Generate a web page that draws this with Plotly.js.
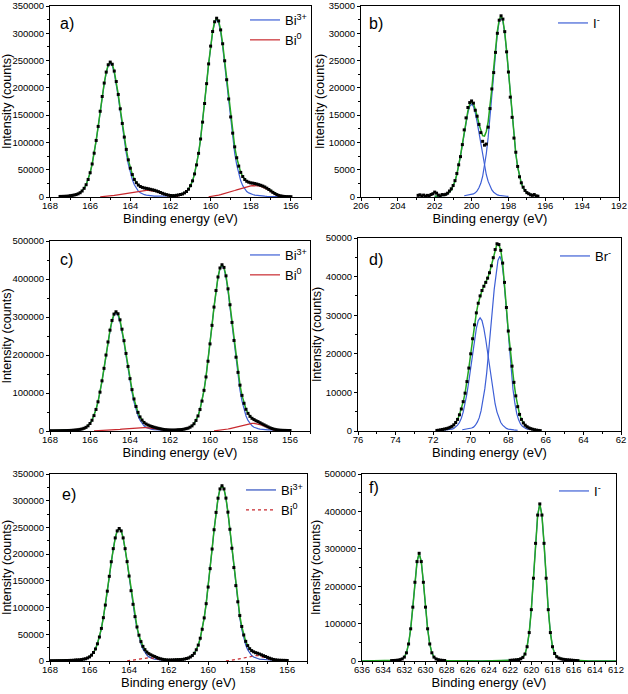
<!DOCTYPE html>
<html><head><meta charset="utf-8">
<script src="https://cdn.plot.ly/plotly-3.0.1.min.js"></script>
<style>html,body{margin:0;padding:0;background:#fff}#chart{width:628px;height:694px}</style>
</head><body><div id="chart"></div>
<script>
// ---------- Data, step 0.1 eV unless noted ----------
// Panel a) Bi 4f
const aStart = 167.5;
const aFit = [1000,1100,1200,1400,1600,2400,2900,3600,4400,5800,
 7800,11000,15900,22500,32100,44500,60500,80300,103600,129300,
 157100,184200,208800,228900,242300,247200,243300,230800,211600,187900,
 161600,134800,109800,87200,68100,52800,41100,32200,26200,21900,
 19200,17600,16500,15800,15000,14100,13200,12300,11100,9800,
 8300,6800,5400,4300,3400,2800,2500,2500,3100,3700,
 4600,5500,7500,10100,14300,20800,29600,42300,58800,80000,
 106300,137200,171300,207700,243900,276500,303300,321100,327600,322600,
 306200,280800,249600,214900,179600,146700,117000,91900,71900,56600,
 45100,37500,32000,28800,27100,25800,25400,24600,23700,22600,
 21400,20000,18300,16100,13700,11100,8500,6200,4300,2900,
 1950,1300,950,700,600,550];
const aBi3 = [800,900,1000,1200,1400,2200,2700,3400,4200,5600,
 7600,10800,15700,22300,31900,44300,60300,80100,103400,129100,
 156600,183500,207800,227600,240600,245000,240600,227600,207800,183500,
 156600,129100,103400,80100,60300,44300,31900,22300,15700,10800,
 7600,5600,4200,3400,2700,2200,1900,1700,1500,1400,
 1300,1300,1300,1400,1500,1600,1800,2100,2900,3600,
 4600,5500,7500,10100,14300,20800,29600,42300,58800,80000,
 106300,137200,171300,207700,243400,275600,301900,319200,325000,319200,
 301900,275600,243400,207700,171300,137200,106300,80000,58800,42300,
 29600,20800,14300,10100,7500,5500,4600,3600,2900,2400,
 2000,1700,1500,1300,1200,1100,1000,900,850,800,
 750,700,650,600,600,550];
const aBi0Start = 165.5;
const aBi0 = [300,500,800,1100,1500,2000,2500,3000,3600,4200,
 4800,5500,6200,6900,7600,8300,9000,9700,10300,10900,
 11400,11800,12100,12200,12100,11700,11300,10600,9600,8400,
 7000,5500,4100,2900,1900,1200,700,400,200,100,
 null,null,null,null,null,null,null,null,null,null,null,null,null,null,
 500,900,1400,1900,2600,3400,4300,5200,6200,7200,
 8300,9500,10700,11900,13100,14300,15500,16700,17700,18700,
 19600,20300,20800,21000,20800,20200,19400,18300,16800,14800,
 12500,10000,7500,5300,3500,2100,1200,600,300,100];

// Panel b) I-
const bDataStart = 202.9;
const bData = [300,400,200,350,150,300,250,450,600,900,
 700,350,200,450,400,500,700,1100,1500,2100,
 3000,4300,5900,7400,9600,12300,14500,16400,17300,17600,
 17200,15900,14800,13300,11800,10200,9500,9700,12800,16200,
 19800,22800,26500,30000,32400,33200,32600,30300,26600,22900,
 18300,14600,10800,8200,5600,3700,2600,1800,1200,800,
 600,400,300,450,200,150];
const bFitStart = 202.0;
const bFit = [150,170,190,220,250,320,420,610,900,1320,
 1990,2890,4130,5710,7600,9710,11940,14040,15760,16970,
 17430,17160,16210,14890,13390,12060,11240,11170,12000,13780,
 16460,19840,23610,27310,30390,32500,33220,32400,30160,26870,
 22860,18550,14520,10920,7920,5540,3760,2510,1680,1120,
 760,560,430,370,310,270,230];
const bComp1Start = 202.0;
const bComp1 = [120,140,160,190,220,290,390,580,870,1290,
 1940,2860,4080,5630,7480,9550,11710,13770,15450,16600,
 17000,16600,15450,13770,11710,9550,7480,5630,4080,2860,
 1940,1290,870,580,390,290,220,190,160,140,120];
const bComp2Start = 200.4;
const bComp2 = [230,270,310,370,430,560,760,1120,1680,2510,
 3760,5540,7920,10920,14520,18550,22740,26730,30000,32210,
 33000,32210,30000,26730,22740,18550,14520,10920,7920,5540,
 3760,2510,1680,1120,760,560,430,370,310,270,230];

// Panel c) Bi 4f
const cFitStart = 168.0;
const cFit = [500,550,600,650,700,
 800,900,1000,1100,1300,1500,1800,2200,2800,3400,
 4300,5300,7100,9600,13600,19800,28200,40500,56500,76900,
 102300,132000,164900,199900,234300,265400,290900,307700,313700,308500,
 292500,267900,237700,204100,169900,137800,108900,84300,64500,49000,
 37100,28800,22600,18500,15700,13400,11700,10000,8500,7200,
 6000,4900,4000,3400,2900,2600,2500,2500,2700,3300,
 3500,3900,4800,6100,7400,10000,13500,19100,27800,39600,
 56600,78700,107000,142200,183600,229200,278000,326100,369600,405300,
 429000,437500,430500,408300,374100,332200,285700,238300,194200,154300,
 120600,93700,72900,57100,46400,38500,33400,30000,27000,24700,
 21800,18900,16200,13500,10800,8400,6400,4800,3600,2700,
 2100,1800,1600,1500,1400,1300];
const cBi3Start = 167.5;
const cBi3 = [800,900,1000,1100,1300,1500,1800,2200,2800,3400,
 4300,5300,7100,9600,13600,19800,28200,40300,56100,76300,
 101400,130800,163400,198100,232200,262900,288000,304400,310000,304400,
 288000,262900,232200,198100,163400,130800,101400,76300,56100,40300,
 28200,19800,13600,9600,7100,5300,4300,3400,2800,2500,
 2300,2100,2000,2000,2000,2100,2200,2400,2700,3300,
 3500,3900,4800,6100,7400,10000,13500,19100,27800,39600,
 56600,78700,107000,142200,183600,229200,278000,325800,368900,404100,
 427200,435000,427200,404100,368900,325800,278000,229200,183600,142200,
 107000,78700,56600,39600,27800,19100,13500,10000,7400,6100,
 4800,3900,3500,3300,3000,2800,2600,2400,2200,2000,
 1800,1700,1600,1500,1400,1300];
const cBi0Start = 165.8;
const cBi0 = [200,400,600,900,1200,1500,1800,2100,2500,2900,
 3300,3700,4100,4500,5000,5500,6000,6500,7000,7500,
 8000,8400,8700,8900,9000,9000,8900,8600,8100,7400,
 6600,5700,4700,3700,2800,2000,1400,900,500,300,100,
 null,null,null,null,null,null,null,null,null,null,null,null,null,null,null,null,null,null,null,
 300,700,1200,1800,2500,3300,4200,5200,6400,7700,
 9100,10600,12100,13600,15000,16300,17500,18600,19400,19900,
 20000,19600,18600,17000,15000,12700,10200,7800,5600,3800,
 2400,1400,700,300,100];

// Panel d) Br-
const dFitStart = 71.8;
const dFit = [150,200,300,400,500,600,750,950,1200,1600,
 2200,3000,4200,5700,7600,9800,12800,16300,20000,23900,
 27500,30600,33100,35000,36400,37500,38500,39600,41000,42800,
 44900,47000,48500,48300,46800,43500,38500,32000,25900,21200,
 16800,12600,9100,6300,4300,3000,2100,1500,1100,800,
 600,450,320,220,150,100];
const dComp1Start = 71.5;
const dComp1 = [200,240,280,320,380,500,670,1000,1500,2200,
 3300,4900,7000,9700,12900,16500,20200,23700,26600,28600,
 29300,28600,26600,23700,20200,16500,12900,9700,7000,4900,
 3300,2200,1500,1000,670,500,380,320,280,240,200];
const dComp2Start = 70.45;
const dComp2 = [320,380,430,480,590,770,1000,1500,2300,3400,
 5200,7600,10900,15000,19900,25500,31200,36700,41200,44200,
 45300,43900,40000,34400,27900,21400,15600,10800,7200,4500,
 2900,1800,1200,800,600,450,380,330,280,250,220];

// Panel e) Bi 4f
const eFitStart = 168.0;
const eFit = [500,520,550,600,650,
 700,750,800,900,1000,1100,1200,1400,1900,2000,
 2200,2700,3500,4200,5700,7700,10900,15900,22600,32200,
 44900,61000,81100,104700,130700,158500,185800,210300,230400,243500,
 248000,243500,230400,210300,186000,159000,131600,106100,83100,63700,
 48300,36300,27400,21300,16700,13700,11600,9700,8300,6600,
 5100,4000,3100,2400,2000,1800,1900,2000,2200,2400,
 2500,2600,3000,3600,4600,5600,7500,10200,14400,21000,
 29800,42600,59400,80700,107300,138400,172900,209600,245700,278100,
 304700,322100,328000,322100,304900,278600,246600,211000,174900,141100,
 110800,85000,64600,48700,36800,28800,23000,19400,17200,15600,
 14500,13000,11500,9900,8400,6800,5300,4000,2900,2200,
 1700,1400,1300,1200,1100,1000];
const eBi3Start = 167.5;
const eBi3 = [700,750,800,900,1000,1100,1200,1400,1900,2000,
 2200,2700,3500,4200,5700,7700,10900,15900,22600,32200,
 44900,61000,81100,104700,130700,158500,185800,210300,230400,243500,
 248000,243500,230400,210300,185800,158500,130700,104700,81100,61000,
 44900,32200,22600,15900,10900,7700,5700,4200,3500,2700,
 2200,2000,1900,1800,1800,1800,1900,2000,2200,2400,
 2500,2600,3000,3600,4600,5600,7500,10200,14400,21000,
 29800,42600,59400,80700,107300,138400,172900,209600,245700,278100,
 304700,322100,328000,322100,304700,278100,245700,209600,172900,138400,
 107300,80700,59400,42600,29800,21000,14400,10200,7500,5600,
 4600,3600,3000,2600,2500,2300,2100,1900,1700,1600,
 1500,1400,1300,1200,1100,1000];
const eBi0Start = 164.1;
const eBi0 = [200,500,900,1400,2000,2700,3400,4100,4800,5400,
 5800,6000,5900,5500,4800,3900,2900,2000,1200,600,200,
 null,null,null,null,null,null,null,null,null,null,null,null,null,null,null,
 null,null,null,null,null,null,null,null,null,null,null,null,null,null,
 200,500,900,1400,2000,2700,3500,4300,5200,6100,
 7000,7800,8600,9200,9700,10000,9900,9400,8500,7300,
 5900,4500,3200,2100,1200,600,200];

// Panel f) I-, step 0.2 eV
const fFitStart = 636.0;
const fFit = [0,0,0,0,0,0,0,0,0,0,0,
 500,700,900,1100,1400,1700,2300,3500,5500,10400,
 21900,45500,86100,144000,210500,265800,288000,265800,210500,144000,
 86100,45500,21900,10400,5500,3500,2300,1700,1400,1100,
 900,700,500,300,200,
 0,0,0,0,0,0,0,0,0,0,0,0,0,0,0,0,0,0,0,
 150,300,500,800,1200,1700,
 2200,2700,3100,3800,5900,9700,18500,38200,76000,137300,
 221300,314600,390200,420000,390200,314600,221300,137300,76000,38200,
 20000,11500,7800,5800,4600,3800,3200,2700,2200,1700,
 1300,900,600,400,200,100,
 0,0,0,0,0,0,0,0,0,0,0,0,0,0];
const fData1Start = 633.2;
const fData1 = [1100,1400,1700,2300,3500,5500,10400,21900,45500,86100,
 144000,210500,265800,288000,265800,210500,144000,86100,45500,21900,
 10400,5500,3500,2300,1700,1400];
const fData2Start = 622.0;
const fData2 = [1700,2200,2700,3100,3800,5900,9700,18500,38200,76000,
 137300,221300,314600,390200,420000,390200,314600,221300,137300,76000,
 38200,20000,11500,7800,5800,4600,3800,3200,2700,2200,
 1700,1300,900];

// ---------- Styling / layout ----------
const W = 628, H = 694;
const FONT = 'Liberation Sans, Arial, Helvetica, sans-serif';
const GREEN = '#22a622', BLUE = '#3d5fd6', RED = '#c8282e', BLACK = '#000';

function line(ax, x0, dx, y, color, width, dash, name, legend, show) {
  return {type: 'scatter', mode: 'lines', x0: x0, dx: dx, y: y,
    xaxis: 'x' + ax, yaxis: 'y' + ax, name: name || '', legend: legend,
    showlegend: !!show, line: {color: color, width: width, dash: dash || 'solid'},
    connectgaps: false, hoverinfo: 'skip'};
}
function dots(ax, x0, dx, y) {
  return {type: 'scatter', mode: 'markers', x0: x0, dx: dx, y: y,
    xaxis: 'x' + ax, yaxis: 'y' + ax, showlegend: false, hoverinfo: 'skip',
    marker: {symbol: 'square', size: 3, color: BLACK}};
}

const traces = [
  line('', aStart, -0.1, aBi3, BLUE, 1.2, 'solid', 'Bi<sup>3+</sup>', 'legend', true),
  line('', aBi0Start, -0.1, aBi0, RED, 1.2, 'solid', 'Bi<sup>0</sup>', 'legend', true),
  line('', aStart, -0.1, aFit, GREEN, 1.5),
  dots('', aStart, -0.1, aFit),
  line('2', bComp1Start, -0.1, bComp1, BLUE, 1.2, 'solid', 'I<sup>-</sup>', 'legend2', true),
  line('2', bComp2Start, -0.1, bComp2, BLUE, 1.2),
  line('2', bFitStart, -0.1, bFit, GREEN, 1.5),
  dots('2', bDataStart, -0.1, bData),
  line('3', cBi3Start, -0.1, cBi3, BLUE, 1.2, 'solid', 'Bi<sup>3+</sup>', 'legend3', true),
  line('3', cBi0Start, -0.1, cBi0, RED, 1.2, 'solid', 'Bi<sup>0</sup>', 'legend3', true),
  line('3', cFitStart, -0.1, cFit, GREEN, 1.5),
  dots('3', cFitStart, -0.1, cFit),
  line('4', dComp1Start, -0.1, dComp1, BLUE, 1.2, 'solid', 'Br<sup>-</sup>', 'legend4', true),
  line('4', dComp2Start, -0.1, dComp2, BLUE, 1.2),
  line('4', dFitStart, -0.1, dFit, GREEN, 1.5),
  dots('4', dFitStart, -0.1, dFit),
  line('5', eBi3Start, -0.1, eBi3, '#2f4fc0', 1.2, 'solid', 'Bi<sup>3+</sup>', 'legend5', true),
  line('5', eBi0Start, -0.1, eBi0, RED, 1.2, 'dot', 'Bi<sup>0</sup>', 'legend5', true),
  line('5', eFitStart, -0.1, eFit, GREEN, 1.5),
  dots('5', eFitStart, -0.1, eFit),
  line('6', fFitStart, -0.2, fFit, BLUE, 1.2, 'solid', 'I<sup>-</sup>', 'legend6', true),
  line('6', fFitStart, -0.2, fFit, GREEN, 1.5),
  dots('6', fData1Start, -0.2, fData1),
  dots('6', fData2Start, -0.2, fData2)
];

const boxes = [
  {x: [50, 311], y: [6, 197],   xr: [168, 155], yr: [0, 350000], yd: 50000},
  {x: [361, 619], y: [6, 197],  xr: [206, 192], yr: [0, 35000],  yd: 5000},
  {x: [50, 310], y: [241, 431], xr: [168, 155], yr: [0, 500000], yd: 100000},
  {x: [358, 621], y: [238, 431], xr: [76, 62],  yr: [0, 50000],  yd: 10000},
  {x: [50, 307], y: [474, 661], xr: [168, 155], yr: [0, 350000], yd: 50000},
  {x: [362, 616], y: [474, 661], xr: [636, 612], yr: [0, 500000], yd: 100000}
];

const layout = {
  width: W, height: H, margin: {l: 0, r: 0, t: 0, b: 0},
  paper_bgcolor: '#fff', plot_bgcolor: '#fff',
  font: {family: FONT, size: 10, color: BLACK},
  showlegend: true, annotations: []
};
const common = {showline: true, linecolor: BLACK, linewidth: 1, mirror: true,
  ticks: 'outside', ticklen: 3, tickwidth: 1, tickcolor: BLACK,
  showgrid: false, zeroline: false, fixedrange: true, automargin: false,
  tickfont: {family: FONT, size: 9.5, color: BLACK}};

boxes.forEach((b, i) => {
  const n = i === 0 ? '' : String(i + 1);
  layout['xaxis' + n] = Object.assign({}, common, {
    domain: [b.x[0] / W, b.x[1] / W], range: b.xr, anchor: 'y' + n,
    tick0: 0, dtick: 2, ticklabelstandoff: -3,
    minor: {dtick: 1, ticks: 'outside', ticklen: 2, tickcolor: BLACK},
    title: {text: 'Binding energy (eV)', font: {family: FONT, size: 13}, standoff: 1}
  });
  layout['yaxis' + n] = Object.assign({}, common, {
    domain: [1 - b.y[1] / H, 1 - b.y[0] / H], range: b.yr, anchor: 'x' + n,
    tick0: 0, dtick: b.yd, tickformat: 'd',
    minor: {dtick: b.yd / 2, ticks: 'outside', ticklen: 2, tickcolor: BLACK},
    title: {text: 'Intensity (counts)', font: {family: FONT, size: 12.5}, standoff: 1}
  });
});

function leg(xpx, ypx) {
  return {x: xpx / W, y: 1 - ypx / H, xref: 'paper', yref: 'paper',
    xanchor: 'left', yanchor: 'top', bgcolor: 'rgba(0,0,0,0)', borderwidth: 0,
    font: {family: FONT, size: 13, color: BLACK}, itemwidth: 30, tracegroupgap: 0};
}
layout.legend = leg(245, 5);
layout.legend2 = leg(553, 8);
layout.legend3 = leg(245, 240);
layout.legend4 = leg(555, 241);
layout.legend5 = leg(241, 475);
layout.legend6 = leg(554, 476);

const labels = [['a)', 58, 23], ['b)', 367, 23], ['c)', 58, 259], ['d)', 367, 259], ['e)', 60, 494], ['f)', 367, 487]];
labels.forEach(l => layout.annotations.push({text: l[0], x: l[1] / W, y: 1 - l[2] / H,
  xref: 'paper', yref: 'paper', xanchor: 'left', yanchor: 'middle', showarrow: false,
  font: {family: FONT, size: 16, color: BLACK}}));

Plotly.newPlot('chart', traces, layout, {displayModeBar: false, staticPlot: true});
</script></body></html>
